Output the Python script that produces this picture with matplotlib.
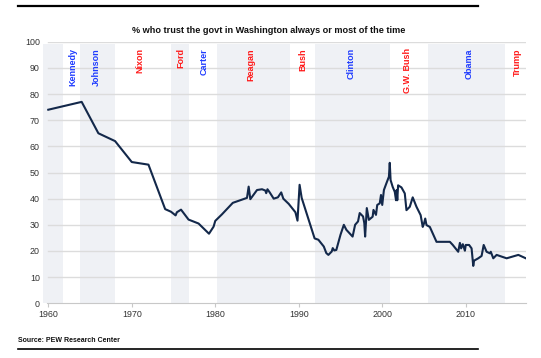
import matplotlib.pyplot as plt
from matplotlib.lines import Line2D

plt.rcParams['font.family'] = ['Liberation Sans', 'DejaVu Sans']

# trust in government
years = [1960, 1964, 1966, 1968, 1970, 1972, 1974, 1974.7, 1975.25, 1975.4,
         1975.9, 1976.8, 1978.0, 1979.25, 1979.8, 1980.0, 1980.8, 1982.1, 1983.8, 1984.0,
         1984.2, 1985.0, 1985.6, 1986.0, 1986.1, 1986.25, 1986.5, 1987.0, 1987.5, 1987.9,
         1988.15, 1988.8, 1989.6, 1989.85, 1990.1, 1990.35, 1991.9, 1992.35, 1993.0, 1993.3,
         1993.55, 1993.95, 1994.07, 1994.26, 1994.5, 1995.0, 1995.4, 1995.7, 1996.45, 1996.75,
         1997.1, 1997.3, 1997.7, 1997.85, 1997.95, 1998.15, 1998.4, 1998.85, 1998.95, 1999.25,
         1999.4, 1999.7, 1999.85, 2000.0, 2000.2, 2000.5, 2000.8, 2000.9, 2001.0, 2001.25,
         2001.5, 2001.65, 2001.73, 2001.8, 2001.9, 2002.3, 2002.7, 2002.9, 2003.3, 2003.65,
         2004.1, 2004.6, 2004.85, 2005.0, 2005.15, 2005.3, 2005.7, 2006.5, 2008.1, 2008.45,
         2009.1, 2009.3, 2009.45, 2009.65, 2009.9, 2010.0, 2010.4, 2010.7, 2010.9, 2011.0,
         2011.5, 2011.9, 2012.15, 2012.5, 2012.9, 2013.0, 2013.3, 2013.7, 2014.9, 2016.3,
         2017.2]
trust = [74, 77, 65, 62, 54, 53, 36, 35, 33.6, 34.8,
         35.8, 32, 30.5, 26.6, 29.3, 31.5, 34, 38.4, 40.3, 44.6,
         39.8, 43.3, 43.6, 43.1, 42.1, 43.6, 42.5, 40, 40.5, 42.4,
         40, 38, 34.8, 31.6, 45.3, 40.3, 24.8, 24.3, 21.7, 19.2,
         18.5, 19.8, 21.1, 20.2, 20.4, 26.2, 30, 28.1, 25.5, 30,
         31.3, 34.5, 33.2, 30.7, 25.5, 36.4, 31.9, 33.1, 35.7, 33.8,
         37.6, 38.2, 41.4, 37.6, 43.3, 45.9, 48.4, 53.7, 47.1, 44.5,
         42.6, 39.4, 43.3, 39.4, 45.1, 44.3, 42, 35.6, 36.9, 40.5,
         36.9, 33.7, 29.2, 30.5, 32.4, 29.9, 29.2, 23.5, 23.5, 22.3,
         19.7, 23.1, 21, 22.6, 20.1, 22.3, 22.3, 21, 14.3, 16.3,
         17.2, 18.1, 22.3, 19.7, 19.1, 19.7, 17.2, 18.5, 17.2, 18.5,
         17.2]

# shaded presidency bands (start, end)
band_starts = [1959.33, 1963.83, 1974.70, 1980.24, 1991.91, 2005.52]
band_ends = [1961.76, 1967.95, 1976.82, 1988.95, 2000.90, 2014.67]

presidents = ['Kennedy', 'Johnson', 'Nixon', 'Ford', 'Carter', 'Reagan',
              'Bush', 'Clinton', 'G.W. Bush', 'Obama', 'Trump']
label_x = [1962.9, 1965.8, 1971.0, 1975.85, 1978.7, 1984.3,
           1990.5, 1996.3, 2003.0, 2010.4, 2016.2]
party = ['D', 'D', 'R', 'R', 'D', 'R', 'R', 'D', 'R', 'D', 'R']

fig = plt.figure(figsize=(5.41, 3.58), dpi=100)
ax = fig.add_axes([0.0789, 0.1528, 0.8934, 0.7307])

for s, e in zip(band_starts, band_ends):
    ax.axvspan(s, e, ymin=0, ymax=0.99, color='#eff1f5', lw=0, zorder=0)

for v in range(10, 101, 10):
    ax.axhline(v, xmin=0.01, color='#dcdcdc', lw=1, zorder=1)

ax.plot(years, trust, color='#13284a', lw=1.5, zorder=3)

for name, x, p in zip(presidents, label_x, party):
    ax.text(x, 97.5, name, rotation=90, ha='center', va='top',
            fontsize=6.5, fontweight='bold',
            color='#1f3cff' if p == 'D' else '#ff1a1a', zorder=4)

ax.set_xlim(1959.33, 2017.22)
ax.set_ylim(0, 100)
ax.set_xticks(range(1960, 2011, 10))
ax.set_yticks(range(0, 101, 10))
for sp in ['top', 'right', 'left']:
    ax.spines[sp].set_visible(False)
ax.spines['bottom'].set_color('#c8c8c8')
ax.spines['bottom'].set_bounds(1959.8, 2017.22)
ax.tick_params(axis='x', length=3, color='#c8c8c8', labelsize=6.4, labelcolor='#333333', pad=2)
ax.tick_params(axis='y', length=0, labelsize=6.4, labelcolor='#333333', pad=2)

fig.text(0.496, 0.915, '% who trust the govt in Washington always or most of the time',
         ha='center', va='center', fontsize=6.6, fontweight='bold', color='#111111')
fig.text(0.034, 0.048, 'Source: PEW Research Center', ha='left', va='center',
         fontsize=5, fontweight='bold', color='#111111')

fig.add_artist(Line2D([18 / 541, 478 / 541], [1 - 6 / 358, 1 - 6 / 358],
                      color='black', lw=1.6, transform=fig.transFigure))
fig.add_artist(Line2D([18 / 541, 478 / 541], [1 - 349 / 358, 1 - 349 / 358],
                      color='black', lw=1.2, transform=fig.transFigure))

fig.savefig('out.png', dpi=100)
